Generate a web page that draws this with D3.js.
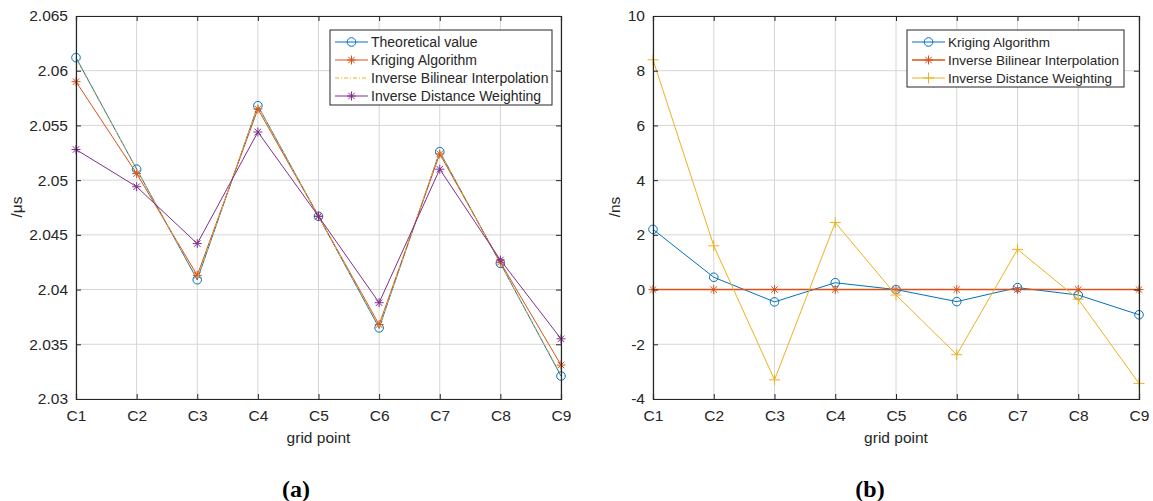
<!DOCTYPE html>
<html>
<head>
<meta charset="utf-8">
<script src="https://d3js.org/d3.v7.min.js"></script>
<style>
  body { margin: 0; background: #fff; }
  svg text { font-family: "Liberation Sans", Arial, sans-serif; fill: #262626; }
</style>
</head>
<body>
<svg id="chart" width="1153" height="501"></svg>
<script>
// categories
var gridPoints = ["C1", "C2", "C3", "C4", "C5", "C6", "C7", "C8", "C9"];

// panel (a) values, in microseconds
var theoretical = [2.0612, 2.0510, 2.0409, 2.0568, 2.0467, 2.0365, 2.0526, 2.0424, 2.0321];
var krigingA    = [2.0590, 2.0506, 2.0413, 2.0565, 2.0467, 2.0368, 2.0524, 2.0425, 2.0331];
var bilinearA   = [2.0611, 2.0510, 2.0410, 2.0568, 2.0467, 2.0366, 2.0526, 2.0424, 2.0322];
var idwA        = [2.0528, 2.0494, 2.0442, 2.0544, 2.0467, 2.0388, 2.0510, 2.0427, 2.0355];

// panel (b) errors, in ns
var krigingB  = [2.2, 0.45, -0.45, 0.25, 0.0, -0.44, 0.07, -0.2, -0.92];
var bilinearB = [0, 0, 0, 0, 0, 0, 0, 0, 0];
var idwB      = [8.4, 1.6, -3.3, 2.45, -0.2, -2.38, 1.47, -0.35, -3.43];

// tick labels
var ticksA = [2.03, 2.035, 2.04, 2.045, 2.05, 2.055, 2.06, 2.065];
var ticksB = [-4, -2, 0, 2, 4, 6, 8, 10];

var C = { blue: "#0072BD", orange: "#D95319", yellow: "#EDB120", purple: "#7E2F8E" };

var svg = d3.select("#chart");
var plotTop = 16, plotBottom = 399;

function markerPath(type, s) {
  if (type === "star") {
    var d = s * 0.72;
    return "M" + (-s) + ",0H" + s + "M0," + (-s) + "V" + s +
      "M" + (-d) + "," + (-d) + "L" + d + "," + d + "M" + (-d) + "," + d + "L" + d + "," + (-d);
  }
  if (type === "plus") return "M" + (-s) + ",0H" + s + "M0," + (-s) + "V" + s;
  return null;
}

function drawMarker(g, type, color, x, y) {
  if (type === "circle") {
    g.append("circle").attr("cx", x).attr("cy", y).attr("r", 4.3)
      .attr("fill", "none").attr("stroke", color).attr("stroke-width", 1);
  } else if (type) {
    g.append("path").attr("transform", "translate(" + x + "," + y + ")")
      .attr("d", markerPath(type, type === "plus" ? 5.5 : 4.5))
      .attr("fill", "none").attr("stroke", color).attr("stroke-width", 1);
  }
}

function panel(opts) {
  var x = d3.scalePoint().domain(gridPoints).range([opts.left, opts.right]);
  var y = d3.scaleLinear().domain(opts.domain).range([plotBottom, plotTop]);
  var g = svg.append("g");

  // grid
  g.selectAll(".gx").data(gridPoints).enter().append("line")
    .attr("x1", function(d) { return x(d); }).attr("x2", function(d) { return x(d); })
    .attr("y1", plotTop).attr("y2", plotBottom).attr("stroke", "#d6d6d6").attr("stroke-width", 1);
  g.selectAll(".gy").data(opts.ticks).enter().append("line")
    .attr("x1", opts.left).attr("x2", opts.right)
    .attr("y1", function(d) { return y(d); }).attr("y2", function(d) { return y(d); })
    .attr("stroke", "#d6d6d6").attr("stroke-width", 1);

  // series
  opts.series.forEach(function(s) {
    var line = d3.line().x(function(d, i) { return x(gridPoints[i]); }).y(function(d) { return y(d); });
    g.append("path").datum(s.values).attr("d", line).attr("fill", "none")
      .attr("stroke", s.color).attr("stroke-width", s.width || 1)
      .attr("stroke-dasharray", s.dash || null);
    s.values.forEach(function(v, i) { drawMarker(g, s.marker, s.color, x(gridPoints[i]), y(v)); });
  });

  // axes box
  var axL = d3.axisLeft(y).tickValues(opts.ticks).tickSize(-5).tickPadding(8).tickFormat(opts.fmt);
  var axR = d3.axisRight(y).tickValues(opts.ticks).tickSize(-5).tickFormat("");
  var axB = d3.axisBottom(x).tickSize(-5).tickPadding(11);
  var axT = d3.axisTop(x).tickSize(-5).tickFormat("");
  [[axL, "translate(" + opts.left + ",0)"], [axR, "translate(" + opts.right + ",0)"],
   [axB, "translate(0," + plotBottom + ")"], [axT, "translate(0," + plotTop + ")"]].forEach(function(a) {
    var ag = g.append("g").attr("transform", a[1]).call(a[0]);
    ag.attr("font-size", null).attr("font-family", null);
    ag.select(".domain").attr("stroke", "#262626").attr("stroke-width", 1.2);
    ag.selectAll(".tick line").attr("stroke", "#262626");
    ag.selectAll("text").style("font-size", "15.5px").attr("fill", "#262626");
  });

  g.append("text").attr("x", (opts.left + opts.right) / 2).attr("y", 443)
    .attr("text-anchor", "middle").style("font-size", "15.5px").text("grid point");
  g.append("text").attr("transform", "translate(" + opts.ylabX + ",207) rotate(-90)")
    .attr("text-anchor", "middle").style("font-size", "15.5px").text(opts.ylab);
  g.append("text").attr("x", opts.capX).attr("y", 497).attr("text-anchor", "middle")
    .style("font-family", "'Liberation Serif', 'DejaVu Serif', serif").style("font-size", "24px")
    .style("font-weight", "bold").style("fill", "#000").text(opts.cap);

  // legend
  var lg = g.append("g");
  var L = opts.legend;
  lg.append("rect").attr("x", L.x).attr("y", L.y).attr("width", L.w).attr("height", 18 * opts.series.length + 3)
    .attr("fill", "#fff").attr("stroke", "#262626").attr("stroke-width", 1);
  opts.series.forEach(function(s, i) {
    var yy = L.y + 12 + i * 18;
    lg.append("line").attr("x1", L.x + 5).attr("x2", L.x + 38).attr("y1", yy).attr("y2", yy)
      .attr("stroke", s.color).attr("stroke-width", s.width || 1).attr("stroke-dasharray", s.dash || null);
    drawMarker(lg, s.marker, s.color, L.x + 21.5, yy);
    lg.append("text").attr("x", L.x + 41).attr("y", yy + 5).style("font-size", L.fs + "px").text(s.name);
  });
}

panel({
  left: 76, right: 561, domain: [2.03, 2.065], ticks: ticksA,
  fmt: function(d) { return String(+d.toFixed(3)); },
  ylab: "/\u03bcs", ylabX: 22, cap: "(a)", capX: 296,
  legend: { x: 330, y: 30, w: 222, fs: 14 },
  series: [
    { name: "Theoretical value", values: theoretical, color: C.blue, marker: "circle" },
    { name: "Kriging Algorithm", values: krigingA, color: C.orange, marker: "star" },
    { name: "Inverse Bilinear Interpolation", values: bilinearA, color: C.yellow, marker: null, dash: "4,2,1,2" },
    { name: "Inverse Distance Weighting", values: idwA, color: C.purple, marker: "star" }
  ]
});

panel({
  left: 653, right: 1139, domain: [-4, 10], ticks: ticksB,
  fmt: function(d) { return String(d); },
  ylab: "/ns", ylabX: 620, cap: "(b)", capX: 870,
  legend: { x: 907, y: 30, w: 217, fs: 13.5 },
  series: [
    { name: "Kriging Algorithm", values: krigingB, color: C.blue, marker: "circle" },
    { name: "Inverse Bilinear Interpolation", values: bilinearB, color: C.orange, marker: "star", width: 1.5 },
    { name: "Inverse Distance Weighting", values: idwB, color: C.yellow, marker: "plus" }
  ]
});
</script>
</body>
</html>
